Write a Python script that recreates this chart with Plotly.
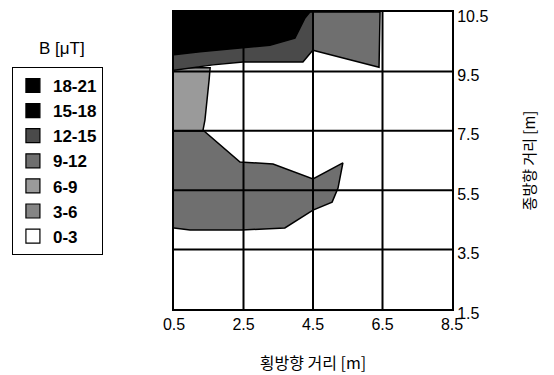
import numpy as np
import plotly.graph_objects as go

# ---- data ----
x_ticks = [0.5, 2.5, 4.5, 6.5, 8.5]
y_ticks = [1.5, 3.5, 5.5, 7.5, 9.5, 10.5]   # rows are equally spaced on the chart
legend_labels = ["18-21", "15-18", "12-15", "9-12", "6-9", "3-6", "0-3"]
legend_colors = ["#000000", "#000000", "#4a4a4a", "#6f6f6f", "#9a9a9a", "#858585", "#ffffff"]

# region boundaries (x [m], y [m])
black_x = [0.5, 4.41, 4.27, 4.13, 3.98, 3.26, 2.31, 1.25, 0.5]
black_y = [10.5, 10.5, 10.40, 10.23, 10.06, 9.94, 9.89, 9.83, 9.78]

band_x = [0.5, 4.5, 4.5, 4.21, 2.49, 1.62, 0.5]
band_y = [10.5, 10.5, 9.86, 9.66, 9.66, 9.61, 9.52]

right_x = [4.47, 6.43, 6.40, 4.47]
right_y = [10.5, 10.5, 9.57, 9.86]

left_x = [0.5, 1.54, 1.51, 1.45, 1.39, 1.33, 0.5]
left_y = [9.56, 9.56, 9.21, 8.54, 7.86, 7.49, 7.49]

low_x = [0.5, 1.33, 2.40, 3.35, 4.5, 5.36, 5.22, 5.05, 4.5, 3.69, 2.46, 0.96, 0.5]
low_y = [7.53, 7.53, 6.45, 6.38, 5.88, 6.42, 5.57, 5.10, 4.83, 4.23, 4.16, 4.16, 4.23]

idx = list(range(len(y_ticks)))
def ypos(v):
    return np.interp(v, y_ticks, idx)

regions = [
    (low_x, low_y, legend_colors[3]),
    (left_x, left_y, legend_colors[4]),
    (right_x, right_y, legend_colors[3]),
    (band_x, band_y, legend_colors[2]),
    (black_x, black_y, legend_colors[0]),
]

fig = go.Figure()
for xs, ys, col in regions:
    fig.add_trace(go.Scatter(x=xs, y=ypos(ys), mode="lines", fill="toself",
                             fillcolor=col, line=dict(color="black", width=1.5),
                             showlegend=False, hoverinfo="skip"))

for lab, col in zip(legend_labels, legend_colors):
    fig.add_trace(go.Scatter(x=[None], y=[None], mode="markers", name=lab,
                             marker=dict(symbol="square", size=14, color=col,
                                         line=dict(color="black", width=1.2))))

# grid drawn above the fills
for xv in x_ticks[1:-1]:
    fig.add_shape(type="line", x0=xv, x1=xv, y0=0, y1=len(y_ticks) - 1,
                  xref="x", yref="y", line=dict(color="black", width=2), layer="above")
for i in idx[1:-1]:
    fig.add_shape(type="line", x0=x_ticks[0], x1=x_ticks[-1], y0=i, y1=i,
                  xref="x", yref="y", line=dict(color="black", width=2), layer="above")

font_num = "Liberation Sans, Arial, sans-serif"
font_kr = "Noto Sans CJK KR, sans-serif"

fig.update_layout(
    width=554, height=375,
    margin=dict(l=166, r=110, t=4, b=74, autoexpand=False),
    paper_bgcolor="white", plot_bgcolor="white",
    font=dict(family=font_num, color="black", size=15),
    xaxis=dict(range=[x_ticks[0], x_ticks[-1]], tickvals=x_ticks,
               ticktext=[str(v) for v in x_ticks], showgrid=False, zeroline=False,
               showline=True, linecolor="black", linewidth=2, mirror=True,
               ticks="", layer="above traces", automargin=False,
               ticklabeloverflow="allow",
               tickfont=dict(size=16, family=font_num),
               title=dict(text="횡방향 거리 [m]", font=dict(family=font_kr, size=16),
                          standoff=26)),
    yaxis=dict(range=[0, len(y_ticks) - 1], tickvals=idx,
               ticktext=[str(v) for v in y_ticks], side="right", showgrid=False,
               zeroline=False, showline=True, linecolor="black", linewidth=2,
               mirror=True, ticks="", layer="above traces", automargin=False,
               ticklabeloverflow="allow", ticklabelshift=4,
               tickfont=dict(size=16, family=font_num),
               title=dict(text="종방향 거리 [m]", font=dict(family=font_kr, size=15),
                          standoff=37)),
    legend=dict(x=-0.583, xanchor="left", y=0.815, yanchor="top",
                bordercolor="black", borderwidth=1, bgcolor="white",
                font=dict(size=17, family=font_num, weight="bold"), tracegroupgap=0,
                itemwidth=30),
    annotations=[dict(text="B [μT]", xref="paper", yref="paper",
                      x=(62 - 174) / 278, y=(309 - 48) / 297,
                      xanchor="center", yanchor="middle",
                      showarrow=False, font=dict(size=17, family=font_num))],
)

fig.write_html("out.html")
